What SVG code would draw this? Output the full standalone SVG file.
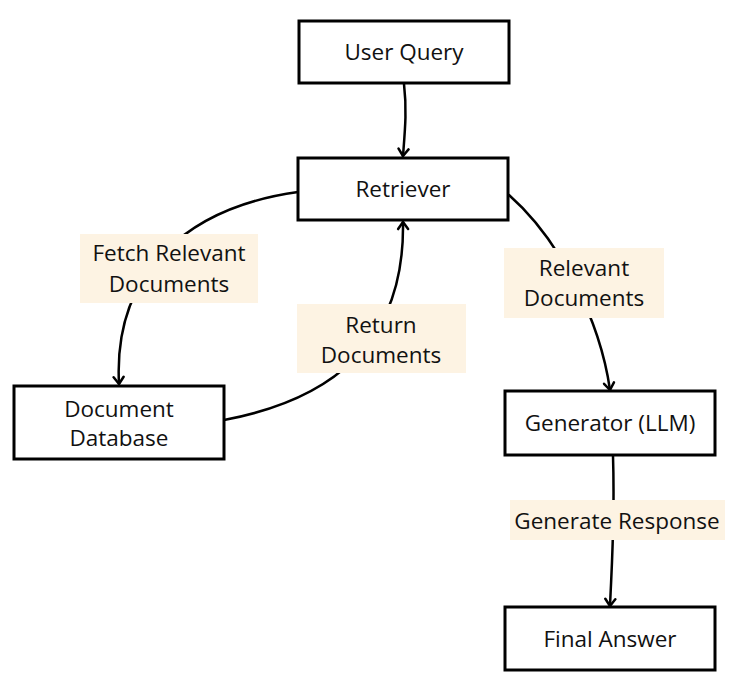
<svg xmlns="http://www.w3.org/2000/svg" width="742" height="688" viewBox="0 0 742 688">
<style>
.box{fill:#fff;stroke:#000;stroke-width:3}
.lbl{fill:#fdf3e3;stroke:none}
.t{font-family:"Open Sans","Noto Sans",sans-serif;font-size:22.5px;fill:#111;text-anchor:middle}
.c{fill:none;stroke:#000;stroke-width:2.5;stroke-linecap:round}
</style>
<defs>
<marker id="arr" markerUnits="userSpaceOnUse" markerWidth="14" markerHeight="14" refX="9" refY="6" orient="auto" viewBox="0 0 14 12">
<path d="M2,1 L9,6 L2,11" fill="none" stroke="#000" stroke-width="2.5" stroke-linecap="round" stroke-linejoin="round"/>
</marker>
</defs>
<rect width="742" height="688" fill="#fff"/>
<g id="connectors">
<path class="c" d="M404,84 C407,110 405,130 403,156" marker-end="url(#arr)"/>
<path class="c" d="M298,192 C190,207 113,270 119,384" marker-end="url(#arr)"/>
<path class="c" d="M224,420 C330,400 405,345 403,222" marker-end="url(#arr)"/>
<path class="c" d="M509,195 C560,240 600,320 610,390" marker-end="url(#arr)"/>
<path class="c" d="M613,456 C615,520 612,560 610,606" marker-end="url(#arr)"/>
</g>
<g id="label-fetch">
<rect class="lbl" x="80" y="234" width="178" height="69"/>
<text class="t" x="169" y="261">Fetch Relevant</text>
<text class="t" x="169" y="292">Documents</text>
</g>
<g id="label-return">
<rect class="lbl" x="297" y="304" width="169" height="69"/>
<text class="t" x="381" y="333">Return</text>
<text class="t" x="381" y="363">Documents</text>
</g>
<g id="label-relevant">
<rect class="lbl" x="504" y="248" width="160" height="70"/>
<text class="t" x="584" y="276">Relevant</text>
<text class="t" x="584" y="306">Documents</text>
</g>
<g id="label-generate">
<rect class="lbl" x="510" y="500" width="215" height="40"/>
<text class="t" x="617" y="529">Generate Response</text>
</g>
<g id="user-query">
<rect class="box" x="299" y="21" width="210" height="62"/>
<text class="t" x="404" y="60">User Query</text>
</g>
<g id="retriever">
<rect class="box" x="298" y="158" width="210" height="62"/>
<text class="t" x="403" y="197">Retriever</text>
</g>
<g id="document-database">
<rect class="box" x="14" y="386" width="210" height="73"/>
<text class="t" x="119" y="417">Document</text>
<text class="t" x="119" y="446">Database</text>
</g>
<g id="generator">
<rect class="box" x="505" y="391" width="210" height="64"/>
<text class="t" x="610" y="431">Generator (LLM)</text>
</g>
<g id="final-answer">
<rect class="box" x="505" y="607" width="210" height="63"/>
<text class="t" x="610" y="647">Final Answer</text>
</g>
</svg>
